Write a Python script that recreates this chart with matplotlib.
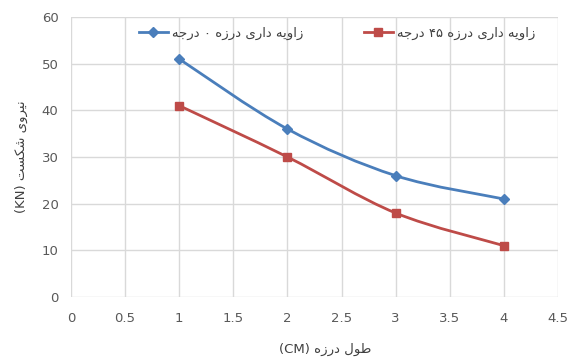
import matplotlib
matplotlib.use("Agg")
import matplotlib.pyplot as plt
from matplotlib.path import Path
from matplotlib.patches import PathPatch
import numpy as np

# ---------------- data ----------------
x_vals = [1, 2, 3, 4]
series_0 = [51, 36, 26, 21]
series_45 = [41, 30, 18, 11]
label_0 = "زاویه داری درزه ۰ درجه"
label_45 = "زاویه داری درزه ۴۵ درجه"
x_label_fa = "طول درزه"
x_label_en = "(CM)"
y_label_fa = "نیروی شکست"
y_label_en = "(KN)"
x_ticks = [0, 0.5, 1, 1.5, 2, 2.5, 3, 3.5, 4, 4.5]
y_ticks = [0, 10, 20, 30, 40, 50, 60]

# ---------------- simple Persian shaping ----------------
# (isolated, final, initial, medial) ; right-joining letters have only 2 forms
FORMS = {
    'ا': ('\uFE8D', '\uFE8E'),
    'د': ('\uFEA9', '\uFEAA'),
    'ر': ('\uFEAD', '\uFEAE'),
    'ز': ('\uFEAF', '\uFEB0'),
    'و': ('\uFEED', '\uFEEE'),
    'ی': ('\uFBFC', '\uFBFD', '\uFBFE', '\uFBFF'),
    'ه': ('\uFEE9', '\uFEEA', '\uFEEB', '\uFEEC'),
    'ج': ('\uFE9D', '\uFE9E', '\uFE9F', '\uFEA0'),
    'ش': ('\uFEB5', '\uFEB6', '\uFEB7', '\uFEB8'),
    'ک': ('\uFB8E', '\uFB8F', '\uFB90', '\uFB91'),
    'س': ('\uFEB1', '\uFEB2', '\uFEB3', '\uFEB4'),
    'ت': ('\uFE95', '\uFE96', '\uFE97', '\uFE98'),
    'ن': ('\uFEE5', '\uFEE6', '\uFEE7', '\uFEE8'),
    'ط': ('\uFEC1', '\uFEC2', '\uFEC3', '\uFEC4'),
    'ل': ('\uFEDD', '\uFEDE', '\uFEDF', '\uFEE0'),
}


def shape_word(w):
    out = []
    n = len(w)
    for i, c in enumerate(w):
        if c not in FORMS:
            out.append(c)
            continue
        prev = w[i - 1] if i > 0 else None
        nxt = w[i + 1] if i + 1 < n else None
        join_prev = prev in FORMS and len(FORMS[prev]) == 4
        join_next = nxt in FORMS and len(FORMS[c]) == 4
        f = FORMS[c]
        if join_prev and join_next:
            out.append(f[3])
        elif join_prev:
            out.append(f[1])
        elif join_next:
            out.append(f[2])
        else:
            out.append(f[0])
    return ''.join(out)


def visual(text):
    words = text.split(' ')
    vis = []
    for w in words:
        if all(ch in '۰۱۲۳۴۵۶۷۸۹' for ch in w):
            vis.append(w)
        else:
            vis.append(shape_word(w)[::-1])
    return ' '.join(vis[::-1])


# ---------------- smooth drawing (Excel-like bezier) ----------------
def smooth_path(xs, ys, ax_, color):
    pts = np.column_stack([xs, ys]).astype(float)
    verts = [tuple(pts[0])]
    codes = [Path.MOVETO]
    t = 1.0 / 6.0
    n = len(pts)
    for i in range(n - 1):
        p0 = pts[i - 1] if i > 0 else pts[i]
        p1 = pts[i]
        p2 = pts[i + 1]
        p3 = pts[i + 2] if i + 2 < n else pts[i + 1]
        c1 = p1 + (p2 - p0) * t
        c2 = p2 - (p3 - p1) * t
        verts += [tuple(c1), tuple(c2), tuple(p2)]
        codes += [Path.CURVE4] * 3
    patch = PathPatch(Path(verts, codes), facecolor='none', edgecolor=color,
                      lw=2.0, zorder=3, capstyle='round')
    ax_.add_patch(patch)


blue = '#4A7EBB'
red = '#BE4B48'

fig = plt.figure(figsize=(5.69, 3.58), dpi=100)
ax = fig.add_axes([0.1248, 0.1704, 0.8559, 0.7821])

smooth_path(x_vals, series_0, ax, blue)
smooth_path(x_vals, series_45, ax, red)
ax.plot(x_vals, series_0, linestyle='none', marker='D', ms=5.5, color=blue, zorder=4)
ax.plot(x_vals, series_45, linestyle='none', marker='s', ms=6, color=red, zorder=4)

# legend handles
h0, = ax.plot([], [], color=blue, lw=2, marker='D', ms=5.5)
h1, = ax.plot([], [], color=red, lw=2, marker='s', ms=6)
leg = ax.legend([h0, h1], [visual(label_0), visual(label_45)], loc='upper center',
                bbox_to_anchor=(0.546, 1.008), ncol=2, frameon=False,
                prop={'family': 'DejaVu Sans', 'size': 9.5}, handlelength=2.2,
                columnspacing=4.6, handletextpad=0.3)
for t in leg.get_texts():
    t.set_color('#404040')

ax.set_xlim(0, 4.5)
ax.set_ylim(0, 60)
ax.set_xticks(x_ticks)
ax.set_xticklabels([f"{v:g}" for v in x_ticks])
ax.set_yticks(y_ticks)
ax.grid(True, color='#D9D9D9', lw=1)
ax.set_axisbelow(True)
for s in ax.spines.values():
    s.set_visible(False)
ax.tick_params(length=0, labelsize=9.5, colors='#595959')
ax.tick_params(axis='x', pad=11)
ax.tick_params(axis='y', pad=9)

ax.set_xlabel(x_label_en + ' ' + visual(x_label_fa), fontsize=9.5, color='#404040')
ax.xaxis.set_label_coords(0.522, -0.164)
ax.set_ylabel(y_label_en + ' ' + visual(y_label_fa), fontsize=9.5, color='#404040')
ax.yaxis.set_label_coords(-0.088, 0.5)

fig.savefig('out.png', dpi=100, facecolor='white')
